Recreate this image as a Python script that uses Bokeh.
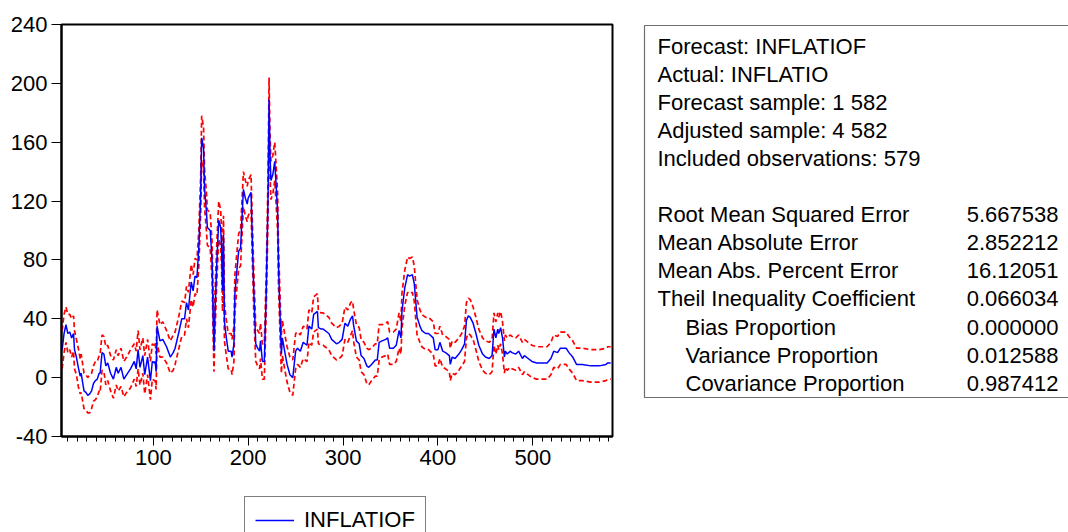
from bokeh.plotting import figure
from bokeh.layouts import row, column
from bokeh.models import (Range1d, SingleIntervalTicker, FixedTicker, Label,
                          Legend, LegendItem, ColumnDataSource)
from bokeh.embed import file_html
from bokeh.resources import INLINE

# ---------------- data ----------------
obs = [4, 6, 8, 10, 12, 14, 16, 17, 19, 21, 23, 24, 27, 29, 31, 33, 35, 37, 39, 41,
       43, 44, 46, 48, 50, 52, 55, 58, 61, 63, 66, 69, 72, 76, 80, 82, 84, 86, 89, 91,
       94, 97, 99, 101, 102, 103, 104, 107, 110, 114, 118, 121, 123, 127, 130, 133, 135, 137, 140, 142,
       144, 146, 148, 150, 151, 153, 154, 156, 157, 160, 162, 163, 164, 165, 167, 169, 171, 172, 173, 174,
       175, 177, 179, 182, 183, 185, 186, 188, 190, 192, 193, 195, 197, 199, 200, 203, 204, 206, 208, 210,
       212, 213, 215, 217, 219, 221, 222, 223, 224, 226, 228, 229, 231, 232, 234, 235, 236, 239, 241, 244,
       247, 250, 252, 255, 258, 262, 264, 267, 269, 273, 274, 277, 279, 285, 288, 293, 296, 299, 302, 305,
       308, 310, 311, 314, 317, 319, 322, 325, 327, 330, 334, 336, 338, 341, 345, 347, 349, 353, 356, 359,
       361, 362, 365, 368, 370, 373, 375, 378, 381, 383, 387, 390, 395, 397, 400, 402, 405, 408, 412, 413,
       415, 418, 422, 425, 428, 430, 432, 434, 437, 440, 443, 447, 450, 454, 457, 459, 461, 463, 464, 466,
       468, 470, 471, 473, 476, 478, 482, 485, 489, 491, 495, 499, 504, 509, 515, 519, 522, 526, 529, 535,
       538, 542, 546, 552, 561, 570, 577, 579, 582]

inflatiof = [19, 30, 36, 30, 31, 27, 30, 19, 14, 7, 1, 3, -9, -10, -12, -11, -9, -4, -2, -1,
             3, 3, 17, 16, 8, 10, 3, -1, 7, 3, 7, -1, 2, 6, 11, 6, 19, 7, 15, 2,
             14, -2, 11, 10, 11, 4, 35, 25, 26, 21, 14, 17, 20, 31, 40, 40, 51, 46, 65, 59,
             69, 68, 88, 125, 163, 156, 129, 113, 102, 100, 79, 45, 18, 43, 79, 107, 102, 88, 59, 97,
             38, 27, 18, 18, 14, 23, 57, 72, 86, 88, 102, 128, 122, 118, 122, 126, 102, 57, 23, 20,
             18, 25, 11, 11, 57, 125, 189, 152, 134, 138, 147, 136, 113, 75, 34, 16, 27, 16, 9, 2,
             0, 18, 20, 18, 24, 22, 35, 33, 43, 45, 34, 33, 33, 30, 26, 23, 24, 26, 37, 35,
             40, 42, 36, 25, 23, 15, 13, 8, 7, 9, 12, 12, 24, 25, 26, 27, 20, 20, 22, 32,
             27, 45, 61, 70, 69, 70, 64, 41, 35, 32, 30, 30, 27, 19, 19, 24, 18, 17, 15, 9,
             14, 13, 16, 19, 23, 39, 42, 41, 37, 30, 22, 16, 14, 13, 15, 33, 27, 33, 30, 34,
             27, 14, 18, 16, 18, 17, 16, 18, 13, 15, 13, 11, 10, 10, 10, 13, 18, 17, 20, 20,
             17, 14, 9, 9, 8, 8, 9, 10, 10]

# +/- 2 S.E. half-width of the forecast band
band = [13, 13, 12, 13, 12, 13, 12, 13, 12, 13, 12, 13, 12, 12, 12, 13, 12, 12, 13, 12,
        12, 13, 12, 12, 13, 12, 12, 13, 12, 12, 13, 12, 12, 13, 12, 12, 13, 12, 12, 13,
        12, 13, 12, 12, 13, 12, 11, 11, 12, 11, 11, 12, 11, 11, 12, 11, 11, 12, 12, 11,
        12, 12, 12, 13, 15, 14, 13, 13, 12, 12, 13, 14, 14, 14, 13, 13, 12, 13, 14, 13,
        13, 12, 12, 12, 12, 12, 13, 12, 12, 12, 12, 12, 12, 12, 12, 12, 13, 14, 12, 12,
        12, 12, 12, 12, 13, 14, 15, 14, 13, 13, 13, 13, 13, 14, 13, 13, 12, 12, 12, 12,
        12, 12, 11, 11, 11, 11, 11, 11, 12, 12, 11, 11, 11, 11, 11, 11, 11, 11, 11, 11,
        11, 10, 11, 11, 11, 11, 11, 12, 12, 11, 11, 11, 12, 11, 11, 11, 11, 11, 11, 12,
        11, 12, 12, 12, 12, 12, 12, 12, 11, 11, 11, 11, 11, 11, 11, 11, 11, 11, 11, 11,
        11, 11, 11, 11, 12, 12, 12, 12, 11, 11, 11, 11, 11, 11, 11, 11, 11, 11, 11, 11,
        11, 11, 11, 11, 11, 11, 11, 11, 11, 11, 11, 11, 11, 11, 11, 11, 11, 11, 11, 11,
        11, 11, 11, 11, 11, 11, 11, 11, 11]

y_ticks = [-40, 0, 40, 80, 120, 160, 200, 240]

header_lines = ["Forecast: INFLATIOF", "Actual: INFLATIO", "Forecast sample: 1 582",
                "Adjusted sample: 4 582", "Included observations: 579"]
stat_names = ["Root Mean Squared Error", "Mean Absolute Error", "Mean Abs. Percent Error",
              "Theil Inequality Coefficient", "Bias Proportion", "Variance Proportion",
              "Covariance Proportion"]
stat_values = ["5.667538", "2.852212", "16.12051", "0.066034", "0.000000", "0.012588", "0.987412"]

upper = [f + b for f, b in zip(inflatiof, band)]
lower = [f - b for f, b in zip(inflatiof, band)]

FONT = "Liberation Sans"
LEFT_W = 632          # width of the chart column
CHART_H = 480
LEG_H = 532 - CHART_H
STATS_W = 1068 - LEFT_W

# ---------------- chart ----------------
p = figure(width=LEFT_W, height=CHART_H, output_backend="svg", toolbar_location=None,
           x_range=Range1d(3.3, 583.9), y_range=Range1d(-40, 240),
           min_border_left=61, min_border_right=LEFT_W - 612, min_border_top=24,
           min_border_bottom=CHART_H - 436)
p.outline_line_color = "black"
p.outline_line_width = 2
p.xgrid.visible = False
p.ygrid.visible = False

src = ColumnDataSource(dict(x=obs, f=inflatiof, up=upper, lo=lower))
p.line("x", "up", source=src, line_color="#FF0000", line_width=1.7, line_dash="5 3")
p.line("x", "lo", source=src, line_color="#FF0000", line_width=1.7, line_dash="5 3")
p.line("x", "f", source=src, line_color="#0000FF", line_width=1.5)

xa = p.xaxis[0]
xa.ticker = SingleIntervalTicker(interval=100, num_minor_ticks=10)
xa.major_tick_out = 9
xa.major_tick_in = 0
xa.minor_tick_out = 5
xa.minor_tick_in = 0
xa.axis_line_width = 2
xa.major_label_text_font = FONT
xa.major_label_text_font_size = "22px"
xa.major_label_text_color = "black"
xa.major_label_standoff = 4

ya = p.yaxis[0]
ya.ticker = FixedTicker(ticks=y_ticks)
ya.major_label_overrides = {t: str(t) for t in y_ticks}
ya.major_tick_out = 10
ya.major_tick_in = 0
ya.minor_tick_out = 0
ya.minor_tick_in = 0
ya.axis_line_width = 2
ya.major_label_text_font = FONT
ya.major_label_text_font_size = "22px"
ya.major_label_text_color = "black"
ya.major_label_standoff = 4

# ---------------- legend strip below the chart ----------------
lg = figure(width=LEFT_W, height=LEG_H, output_backend="svg", toolbar_location=None,
            x_axis_location=None, y_axis_location=None,
            x_range=Range1d(-1000, -999), y_range=Range1d(-1000, -999),
            min_border=0)
lg.outline_line_color = None
lg.xgrid.visible = False
lg.ygrid.visible = False
r_leg = lg.line(obs, inflatiof, line_color="#0000FF", line_width=1.3)
legend = Legend(items=[LegendItem(label="INFLATIOF", renderers=[r_leg])],
                location=(244 - 61, LEG_H - 20 - 44),
                orientation="horizontal",
                label_text_font=FONT, label_text_font_size="22px", label_text_color="black",
                glyph_width=39, glyph_height=20, label_standoff=10, padding=10, margin=0,
                border_line_color="black", border_line_width=1, background_fill_alpha=1.0)
lg.add_layout(legend, "center")

# ---------------- statistics panel ----------------
X0 = LEFT_W  # canvas x of the panel's left edge
st = figure(width=STATS_W, height=532, output_backend="svg", toolbar_location=None,
            x_axis_location=None, y_axis_location=None,
            x_range=Range1d(0, STATS_W), y_range=Range1d(532, 0), min_border=0)
st.outline_line_color = None
st.xgrid.visible = False
st.ygrid.visible = False
st.quad(left=[644 - X0], right=[STATS_W + 10], top=[25], bottom=[397],
        fill_color="white", line_color="#6E6E6E", line_width=1.2)

SHIFT = 8.5
for i, t in enumerate(header_lines):
    st.add_layout(Label(x=657 - X0, y=54 + 28.1 * i - SHIFT, text=t, text_font=FONT,
                        text_font_size="22px", text_color="black",
                        text_baseline="alphabetic", text_align="left"))
for j, (n, v) in enumerate(zip(stat_names, stat_values)):
    ybase = 54 + 28.1 * (6 + j) - SHIFT
    xl = 685 if j >= 4 else 657
    st.add_layout(Label(x=xl - X0, y=ybase, text=n, text_font=FONT,
                        text_font_size="22px", text_color="black",
                        text_baseline="alphabetic", text_align="left"))
    st.add_layout(Label(x=1058 - X0, y=ybase, text=v, text_font=FONT,
                        text_font_size="22px", text_color="black",
                        text_baseline="alphabetic", text_align="right"))

layout = row(column(p, lg, spacing=0), st, spacing=0)
open("out.html", "w").write(file_html(layout, INLINE))
